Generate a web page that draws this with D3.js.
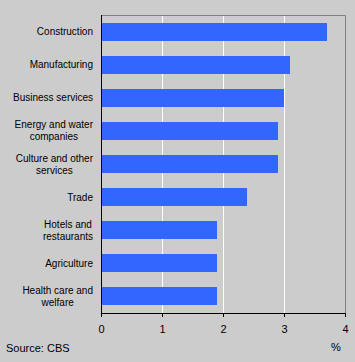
<!DOCTYPE html>
<html><head><meta charset="utf-8">
<script src="https://cdn.jsdelivr.net/npm/d3@7"></script>
<style>body{margin:0;background:#cccccc;} text{font-family:"Liberation Sans",Arial,sans-serif;fill:#000;}</style>
</head><body>
<svg id="c" width="355" height="362"></svg>
<script>
const categories = [
  ["Construction"],
  ["Manufacturing"],
  ["Business services"],
  ["Energy and water","companies"],
  ["Culture and other","services"],
  ["Trade"],
  ["Hotels and","restaurants"],
  ["Agriculture"],
  ["Health care and","welfare"]
];
const values = [3.7, 3.1, 3.0, 2.9, 2.9, 2.4, 1.9, 1.9, 1.9];
const xTicks = [0, 1, 2, 3, 4];
const source = "Source: CBS";
const unit = "%";

const W = 355, H = 362;
const m = {left: 101, right: 10, top: 15, bottom: 49};
const svg = d3.select("#c");
svg.append("rect").attr("width", W).attr("height", H).attr("fill", "#cccccc");

const keys = categories.map(d => d.join(" "));
const x = d3.scaleLinear().domain([0, 4]).range([m.left, W - m.right]);
const y = d3.scaleBand().domain(keys).range([m.top, H - m.bottom]).paddingInner(0.455).paddingOuter(0.2275);

// gridlines
svg.append("g").selectAll("line").data(xTicks.filter(t => t > 0 && t < 4)).join("line")
  .attr("x1", d => Math.round(x(d)) + 0.5).attr("x2", d => Math.round(x(d)) + 0.5)
  .attr("y1", m.top).attr("y2", H - m.bottom)
  .attr("stroke", "#ffffff").attr("stroke-width", 1);

// top & right border
const x0 = Math.round(x(0)) + 0.5, x4 = Math.round(x(4)) + 0.5;
const yT = m.top + 0.5, yB = Math.round(H - m.bottom) + 0.5;
svg.append("path").attr("d", `M${x0},${yT}H${x4}V${yB}`).attr("fill", "none").attr("stroke", "#808080");

// bars
svg.append("g").selectAll("rect").data(values).join("rect")
  .attr("x", x(0)).attr("y", (d, i) => y(keys[i]))
  .attr("width", d => x(d) - x(0)).attr("height", y.bandwidth())
  .attr("fill", "#3366ff").attr("shape-rendering", "crispEdges");

// x axis
const ax = svg.append("g").attr("transform", `translate(0,${yB - 0.5})`)
  .call(d3.axisBottom(x).tickValues(xTicks).tickFormat(d3.format("d")).tickSize(4).tickSizeOuter(0).tickPadding(8));
ax.select(".domain").attr("stroke", "#000");
ax.selectAll(".tick line").attr("stroke", "#000");
ax.selectAll("text").style("font-size", "11px").attr("fill", "#000").style("font-family", '"Liberation Sans",Arial,sans-serif');

// left axis line
svg.append("line").attr("x1", x0).attr("x2", x0).attr("y1", m.top).attr("y2", yB)
  .attr("stroke", "#000");

// category labels
const lab = svg.append("g");
categories.forEach((lines, i) => {
  const cy = y(keys[i]) + y.bandwidth() / 2;
  const g = lab.append("g");
  const lh = 12;
  const ts = lines.map((t, j) => g.append("text")
    .attr("y", cy + (j - (lines.length - 1) / 2) * lh)
    .attr("dy", "0.35em")
    .style("font-size", "10px")
    .attr("text-anchor", "middle")
    .text(t));
  const maxW = d3.max(ts, t => t.node().getComputedTextLength());
  ts.forEach(t => t.attr("x", 93 - maxW / 2));
});

svg.append("text").attr("x", 6).attr("y", 352).style("font-size", "11px").text(source);
svg.append("text").attr("x", 336).attr("y", 351).attr("text-anchor", "middle").style("font-size", "11px").text(unit);
</script>
</body></html>
